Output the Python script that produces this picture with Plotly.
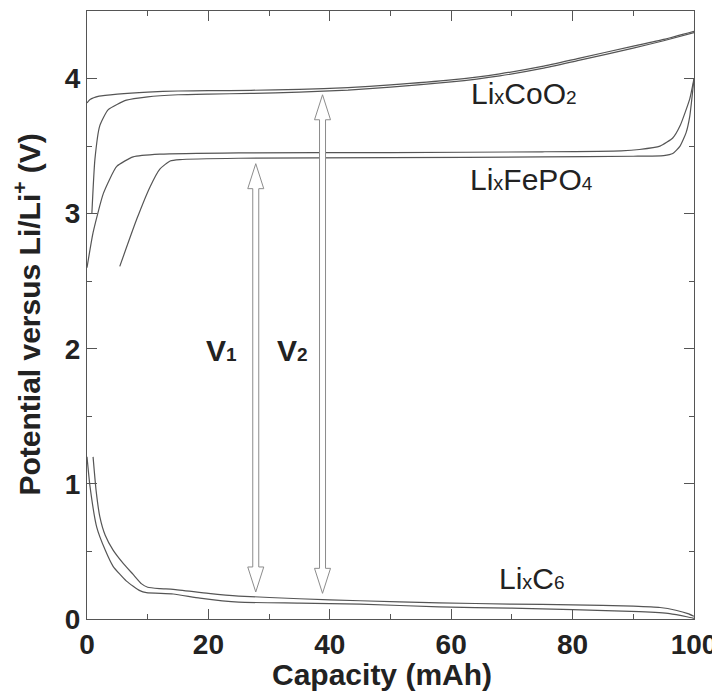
import plotly.graph_objects as go

# ---- data ----
co_charge_x = [0, 0.5, 2, 5, 10, 15, 20, 27, 35, 43, 50, 60, 68, 75, 81, 90, 95, 100]
co_charge_y = [3.82, 3.845, 3.87, 3.885, 3.9, 3.908, 3.91, 3.913, 3.92, 3.933, 3.953, 3.99, 4.035, 4.09, 4.15, 4.24, 4.29, 4.35]
co_dis_x = [0.8, 1.3, 2.1, 3.5, 6.5, 10, 15, 20, 27, 35, 43, 50, 60, 68, 75, 81, 90, 95, 100]
co_dis_y = [3.0, 3.4, 3.65, 3.77, 3.84, 3.865, 3.88, 3.885, 3.89, 3.9, 3.915, 3.937, 3.975, 4.02, 4.075, 4.135, 4.225, 4.28, 4.34]

fe_charge_x = [0, 1, 2.7, 4.9, 7.6, 12, 25, 50, 75, 88, 91, 94.4, 96.5, 97.7, 99.3, 100]
fe_charge_y = [2.6, 2.86, 3.15, 3.35, 3.42, 3.44, 3.45, 3.452, 3.458, 3.465, 3.475, 3.5, 3.56, 3.65, 3.85, 4.0]
fe_dis_x = [5.4, 8.2, 10.4, 12, 13.7, 15.3, 25, 50, 75, 90, 95, 96.5, 97.7, 98.7, 99.3, 100]
fe_dis_y = [2.61, 2.96, 3.2, 3.33, 3.39, 3.4, 3.41, 3.415, 3.42, 3.425, 3.43, 3.445, 3.5, 3.6, 3.72, 4.0]

c6_upper_x = [1.0, 1.5, 2.1, 3, 4.3, 6, 7.6, 9, 10, 12, 14.2, 20, 25, 35, 45, 58, 70, 80, 90, 94.4, 97, 99, 100]
c6_upper_y = [1.2, 0.95, 0.76, 0.62, 0.51, 0.41, 0.33, 0.26, 0.235, 0.225, 0.22, 0.19, 0.17, 0.15, 0.135, 0.12, 0.11, 0.105, 0.095, 0.085, 0.065, 0.04, 0.02]
c6_lower_x = [0, 0.5, 1.6, 3, 4.3, 6.5, 8.7, 9.8, 14.2, 18.6, 25, 35, 45, 58, 70, 80, 91, 96, 99, 100]
c6_lower_y = [1.2, 0.98, 0.68, 0.51, 0.39, 0.28, 0.21, 0.195, 0.185, 0.155, 0.125, 0.118, 0.11, 0.09, 0.08, 0.07, 0.054, 0.04, 0.015, 0.005]

x_ticks = [0, 20, 40, 60, 80, 100]
y_ticks = [0, 1, 2, 3, 4]

# voltage arrows (x position, top, bottom) and labels
arrow_x = [27.8, 38.8]
arrow_top = [3.37, 3.88]
arrow_bottom = [0.20, 0.19]
v_labels = ["V<span style='font-size:19px'>1</span>", "V<span style='font-size:19px'>2</span>"]
v_label_x = [22.2, 33.9]
v_label_y = [1.99, 1.99]

mat_labels = ["Li<span style='font-size:20px'>x</span>CoO<span style='font-size:19px'>2</span>",
              "Li<span style='font-size:20px'>x</span>FePO<span style='font-size:19px'>4</span>",
              "Li<span style='font-size:20px'>x</span>C<span style='font-size:19px'>6</span>"]
mat_label_x = [62.9, 62.8, 67.5]
mat_label_y = [3.89, 3.25, 0.30]

x_title = "Capacity (mAh)"
y_title = "Potential versus Li/Li<sup>+</sup> (V)"

LINE = "#555555"
FONT = "Liberation Sans, Arial, sans-serif"
fig = go.Figure()
for xs, ys in [(co_charge_x, co_charge_y), (co_dis_x, co_dis_y),
               (fe_charge_x, fe_charge_y), (fe_dis_x, fe_dis_y),
               (c6_upper_x, c6_upper_y), (c6_lower_x, c6_lower_y)]:
    fig.add_trace(go.Scatter(x=xs, y=ys, mode="lines", line=dict(color=LINE, width=1.2, shape="spline", smoothing=0.5),
                             showlegend=False, hoverinfo="skip"))

# hollow double-headed arrows (sizes in data units, derived from pixel scale)
px_x = 100 / 607.0
px_y = 4.5 / 608.0
hl = 25 * px_y
hw = 8 * px_x
sw = 3 * px_x
for x, yt, yb in zip(arrow_x, arrow_top, arrow_bottom):
    pts = [(x - sw, yb + hl), (x - hw, yb + hl), (x, yb), (x + hw, yb + hl), (x + sw, yb + hl),
           (x + sw, yt - hl), (x + hw, yt - hl), (x, yt), (x - hw, yt - hl), (x - sw, yt - hl)]
    path = "M " + " L ".join(f"{a:.4f},{b:.4f}" for a, b in pts) + " Z"
    fig.add_shape(type="path", path=path, xref="x", yref="y", fillcolor="white",
                  line=dict(color="#8c8c8c", width=1), layer="above")

for t, x, y in zip(v_labels, v_label_x, v_label_y):
    fig.add_annotation(x=x, y=y, text=t, showarrow=False, xanchor="center", yanchor="middle",
                       font=dict(family=FONT, size=30, color="#222222", weight="bold"))
for t, x, y in zip(mat_labels, mat_label_x, mat_label_y):
    fig.add_annotation(x=x, y=y, text=t, showarrow=False, xanchor="left", yanchor="middle",
                       font=dict(family=FONT, size=30, color="#222222"))

# axis titles
fig.add_annotation(x=0.486, y=-0.091, xref="paper", yref="paper", text=x_title, showarrow=False,
                   xanchor="center", yanchor="middle",
                   font=dict(family=FONT, size=30, color="#222222", weight="bold"))
fig.add_annotation(x=-0.098, y=0.5, xref="paper", yref="paper", text=y_title, showarrow=False,
                   textangle=-90, xanchor="center", yanchor="middle",
                   font=dict(family=FONT, size=30, color="#222222", weight="bold"))

axis_common = dict(showline=True, linecolor=LINE, linewidth=1, mirror="ticks", ticks="inside",
                   ticklen=10, tickcolor=LINE, tickwidth=1, showgrid=False, zeroline=False, automargin=False,
                   tickfont=dict(family=FONT, size=28, color="#222222", weight="bold"))
fig.update_xaxes(range=[0, 100], tickvals=x_ticks,
                 minor=dict(dtick=10, ticks="inside", ticklen=5, tickcolor=LINE, showgrid=False),
                 **axis_common)
fig.update_yaxes(range=[0, 4.5], tickvals=y_ticks,
                 minor=dict(dtick=0.5, ticks="inside", ticklen=5, tickcolor=LINE, showgrid=False),
                 **axis_common)
# page body adds an 8px offset, so the figure is sized to fit the 720x696 window
fig.update_layout(width=712, height=688, margin=dict(l=79, r=26, t=3, b=77),
                  plot_bgcolor="white", paper_bgcolor="white")
fig.write_html("out.html")
